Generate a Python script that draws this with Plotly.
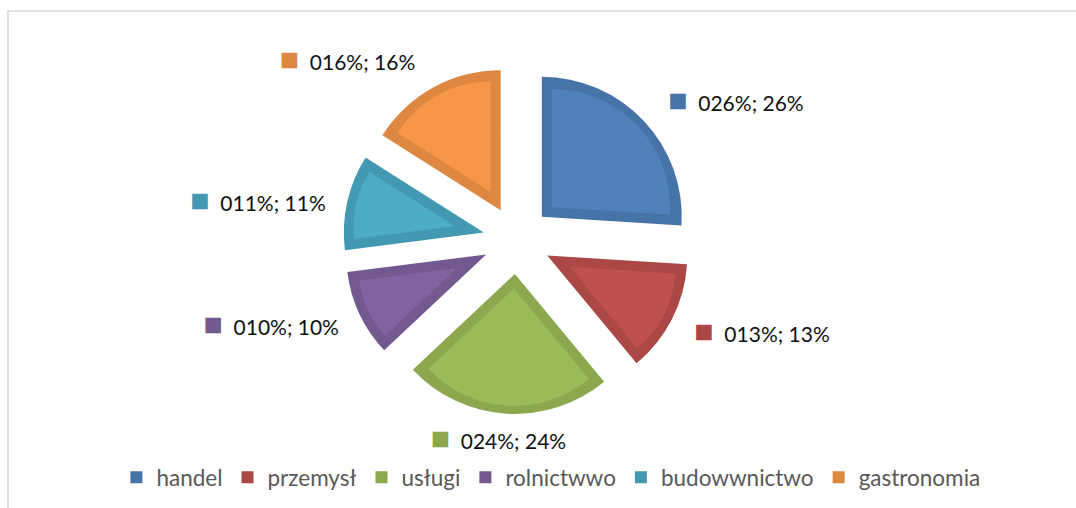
import math
import plotly.graph_objects as go

# ---- data ----
categories = ["handel", "przemysł", "usługi", "rolnictwwo", "budowwnictwo", "gastronomia"]
values = [26, 13, 24, 10, 11, 16]
label_texts = ["026%; 26%", "013%; 13%", "024%; 24%", "010%; 10%", "011%; 11%", "016%; 16%"]

# ---- style / layout ----
fill_colors = ["#4f81bd", "#c0504d", "#9bbb59", "#8064a2", "#4bacc6", "#f79646"]
edge_colors = ["#4673a8", "#ab4744", "#8ba84f", "#725a91", "#4399b1", "#dd8741"]

W, H = 1076, 508
CX, CY = 517, 240      # pie centre (px)
R = 140                # outer radius (px)
OFF = 34               # explosion offset (px)
BAND = 10              # darker rim width (px)
FONT = "Lato"
LABEL_DIST = [194, 188, 177, 186, 186, 191]   # radial distance of label anchors (px)
LABEL_SHIFT = [0, 0, 70, 0, 0, 0]             # horizontal shift of label anchor (px)
R_TXT = 100


def domain(cx, cy, half):
    return dict(x=[(cx - half) / W, (cx + half) / W],
                y=[1 - (cy + half) / H, 1 - (cy - half) / H])


total = sum(values)
n = len(values)
common = dict(labels=categories, values=values, sort=False, direction="clockwise",
              rotation=0, hoverinfo="skip")
fig = go.Figure()

# outer (rim-coloured) slices + legend
fig.add_trace(go.Pie(
    **common,
    marker=dict(colors=edge_colors, line=dict(width=0)),
    pull=[OFF / R] * n, domain=domain(CX, CY, R + OFF),
    textinfo="none", showlegend=True,
))

# inner lighter fill of each slice (inset by BAND)
for i, v in enumerate(values):
    a = math.pi * v / total            # half angle
    s = BAND / math.sin(a)
    rho = R - BAND - s + 5 * math.tan(a / 2)
    off = OFF + s
    pulls = [0] * n
    pulls[i] = off / rho
    cols = ["rgba(0,0,0,0)"] * n
    cols[i] = fill_colors[i]
    fig.add_trace(go.Pie(
        **common,
        marker=dict(colors=cols, line=dict(width=0)),
        pull=pulls, domain=domain(CX, CY, rho + off),
        textinfo="none", showlegend=False,
    ))

# data labels (transparent pies that only carry the outside text)
for shift in sorted(set(LABEL_SHIFT)):
    idx = [i for i in range(n) if LABEL_SHIFT[i] == shift]
    texts = [""] * n
    pulls = [0] * n
    for i in idx:
        texts[i] = (f"<span style='color:{edge_colors[i]};font-size:32px'>■</span>"
                    f"\u00a0\u00a0{label_texts[i]}")
        pulls[i] = LABEL_DIST[i] / R_TXT - 1
    fig.add_trace(go.Pie(
        **common,
        marker=dict(colors=["rgba(0,0,0,0)"] * n, line=dict(width=0)),
        pull=pulls, domain=domain(CX + shift, CY, R_TXT * (1 + max(pulls))),
        text=texts, textinfo="text", textposition="outside",
        textfont=dict(family=FONT, size=21, color="#111111"),
        automargin=False, showlegend=False,
    ))

fig.update_layout(
    width=W, height=H,
    margin=dict(l=0, r=0, t=0, b=0, pad=0, autoexpand=False),
    paper_bgcolor="white", plot_bgcolor="white",
    showlegend=True,
    legend=dict(orientation="h", x=0.512, xanchor="center", y=0.06, yanchor="middle",
                font=dict(family=FONT, size=22.5, color="#595959"),
                itemclick=False, itemdoubleclick=False),
    shapes=[dict(type="rect", xref="paper", yref="paper",
                 x0=8 / W, x1=1.02, y0=-0.05, y1=1 - 11 / H,
                 line=dict(color="#d9d9d9", width=1.5), fillcolor="rgba(0,0,0,0)",
                 layer="below")],
)

fig.write_html("out.html", config={"displayModeBar": False},
               post_script="document.body.style.margin='0';")
